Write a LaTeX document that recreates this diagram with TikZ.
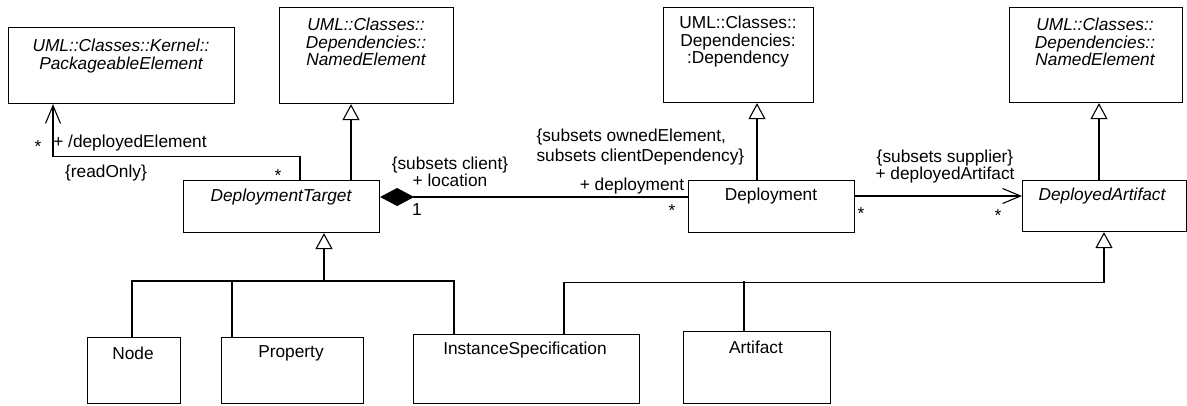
\documentclass[tikz,border=0pt]{standalone}
\usepackage{fontspec}
\setmainfont{Liberation Sans}
\usetikzlibrary{arrows.meta,calc}
\begin{document}
\begin{tikzpicture}[x=1pt,y=-1pt,line width=1.1pt,
  box/.style={draw,rectangle,inner sep=0pt,anchor=north west},
  txt/.style={font=\fontsize{17.3}{17.5}\selectfont,inner sep=0pt,align=center},
  mult/.style={txt,yshift=-3.7pt},
  gen/.style={-{Triangle[open,fill=white,length=16pt,width=17pt]}},
  nav/.style={-{Straight Barb[length=18pt,width=15pt]}},
  comp/.style={{Diamond[length=34pt,width=18pt]}-}]
\useasboundingbox (0,0) rectangle (1187,405);
% boxes
\node[box,minimum width=226pt,minimum height=76pt] (PE) at (8,27) {};
\node[box,minimum width=174pt,minimum height=96pt] (NE1) at (279,7) {};
\node[box,minimum width=150pt,minimum height=95pt] (Dep) at (663,7) {};
\node[box,minimum width=173pt,minimum height=95pt] (NE2) at (1009,7) {};
\node[box,minimum width=196pt,minimum height=52pt] (DT) at (183,180) {};
\node[box,minimum width=166pt,minimum height=52pt] (Dpl) at (688,180) {};
\node[box,minimum width=164pt,minimum height=51pt] (DA) at (1022,180) {};
\node[box,minimum width=93pt,minimum height=66pt] (Nd) at (87,337) {};
\node[box,minimum width=142pt,minimum height=66pt] (Prop) at (221,337) {};
\node[box,minimum width=226pt,minimum height=69pt] (IS) at (413,334) {};
\node[box,minimum width=147pt,minimum height=72pt] (Art) at (683,331) {};
% box texts
\node[txt] (tPE) at (121,56) {\itshape UML::Classes::Kernel::\\\itshape PackageableElement};
\node[txt] (tNE1) at (366,42) {\itshape UML::Classes::\\\itshape Dependencies::\\\itshape NamedElement};
\node[txt] (tDep) at (738,42) {UML::Classes::\\Dependencies:\\:Dependency};
\node[txt] (tNE2) at (1095,42) {\itshape UML::Classes::\\\itshape Dependencies::\\\itshape NamedElement};
\node[txt] (tDT) at (281,197) {\itshape DeploymentTarget};
\node[txt] (tDpl) at (771,196) {Deployment};
\node[txt] (tDA) at (1102,196) {\itshape DeployedArtifact};
\node[txt] (tNd) at (133,353) {Node};
\node[txt] (tProp) at (291,353) {Property};
\node[txt] (tIS) at (525,350) {InstanceSpecification};
\node[txt] (tArt) at (756,347) {Artifact};
% deployedElement association
\coordinate (peEnd) at ($(PE.south west)+(45,0)$);
\coordinate (dtA) at ($(DT.north west)+(117,0)$);
\draw[nav] (dtA) |- ($(peEnd)+(0,52)$) -- (peEnd);
\node[mult] (m1) at (38,143) {*};
\node[txt] (l1) at (130,143) {+ /deployedElement};
\node[txt] (l2) at (106,173) {\{readOnly\}};
\node[mult] (m2) at (278,172) {*};
% generalizations to NamedElement / Dependency
\draw[gen] ($(DT.north west)+(168,0)$) -- ($(NE1.south west)+(72,0)$);
\draw[gen] ($(Dpl.north west)+(69,0)$) -- ($(Dep.south west)+(94,0)$);
\draw[gen] ($(DA.north west)+(77,0)$) -- ($(NE2.south west)+(90,0)$);
% composition
\draw[comp] ($(DT.north east)+(0,17)$) -- ($(Dpl.north west)+(0,17)$);
\node[txt] (l3) at (450,172) {\{subsets client\}\\+ location};
\node[txt] (m3) at (417,210) {1};
\node[mult] (m4) at (672,207) {*};
\node[txt] (l4) at (632,186) {+ deployment};
\node[txt,align=left,anchor=west] (l5) at (536,147) {\{subsets ownedElement,\\[2.5pt]subsets clientDependency\}};
% deployedArtifact association
\draw[nav] ($(Dpl.north east)+(0,16)$) -- ($(DA.north west)+(0,16)$);
\node[txt] (l6) at (945,166.5) {\{subsets supplier\}\\+ deployedArtifact};
\node[mult] (m5) at (861,210) {*};
\node[mult] (m6) at (998,212) {*};
% DeploymentTarget tree
\draw[gen] ($(DT.south west)+(141,49)$) -- ($(DT.south west)+(141,0)$);
\draw ($(Nd.north west)+(45,0)$) |- ($(IS.north west)+(41,-53)$) -- ($(IS.north west)+(41,0)$);
\draw ($(Prop.north west)+(11,0)$) -- ++(0,-56);
% DeployedArtifact tree
\draw[gen] ($(IS.north west)+(151,0)$) |- ($(DA.south west)+(82,50)$) -- ($(DA.south west)+(82,0)$);
\draw ($(Art.north west)+(61,0)$) -- ++(0,-50);
\end{tikzpicture}
\end{document}
